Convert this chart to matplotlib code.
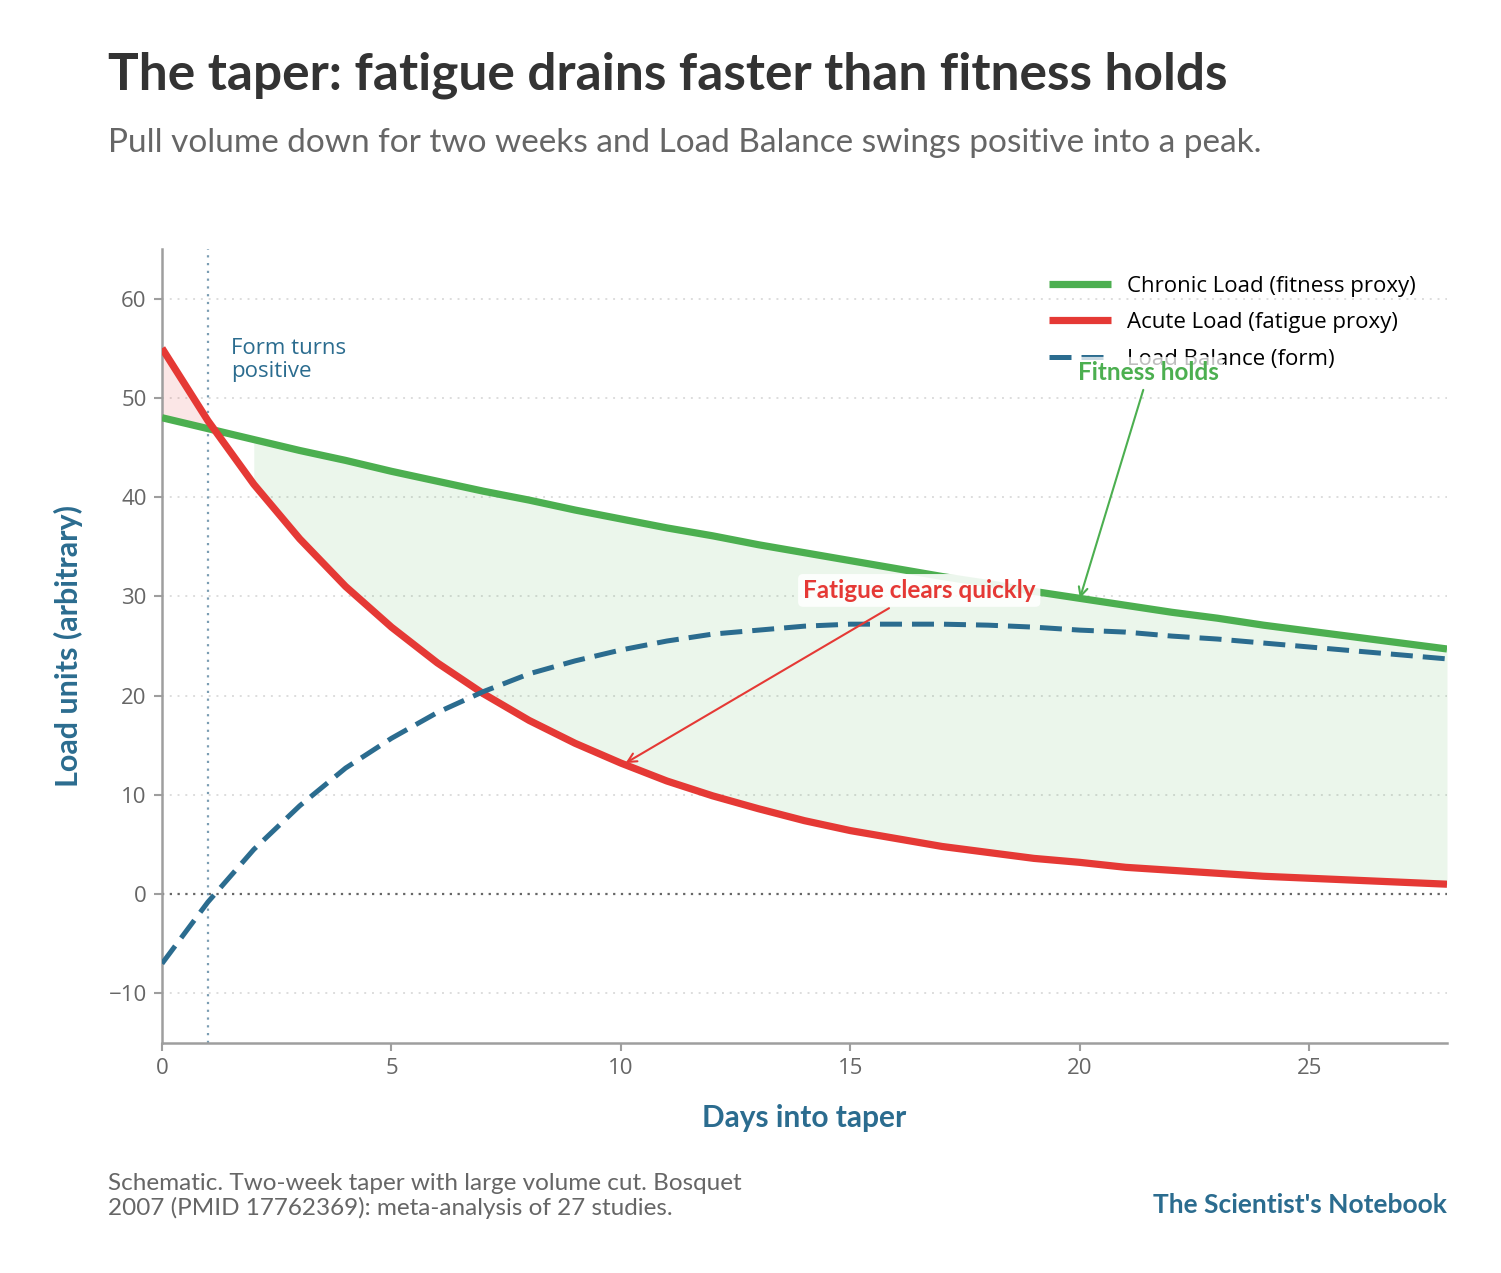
import matplotlib
matplotlib.use("Agg")
import matplotlib.pyplot as plt
import numpy as np

# ---- data ----
days = list(range(0, 29))
chronic = [48.0, 46.9, 45.8, 44.7, 43.7, 42.6, 41.6, 40.6, 39.7, 38.7,
           37.8, 36.9, 36.1, 35.2, 34.4, 33.6, 32.8, 32.0, 31.3, 30.5,
           29.8, 29.1, 28.4, 27.8, 27.1, 26.5, 25.9, 25.3, 24.7]
acute = [55.0, 47.7, 41.3, 35.8, 31.0, 26.9, 23.3, 20.2, 17.5, 15.2,
         13.2, 11.4, 9.9, 8.6, 7.4, 6.4, 5.6, 4.8, 4.2, 3.6,
         3.2, 2.7, 2.4, 2.1, 1.8, 1.6, 1.4, 1.2, 1.0]
form_positive_day = 1
y_ticks = [-10, 0, 10, 20, 30, 40, 50, 60]
x_ticks = [0, 5, 10, 15, 20, 25]

x = np.array(days)
c = np.array(chronic)
a = np.array(acute)
bal = c - a

GREEN = "#4caf50"
RED = "#e53935"
BLUE = "#2b6c8f"
HEAD = "Lato"
BODY = "Open Sans"

fig = plt.figure(figsize=(15.01, 12.73), dpi=100)
ax = fig.add_axes([162/1501, 1 - 1043/1273, (1447-162)/1501, (1043-249)/1273])

ax.fill_between(x, c, a, where=a > c, color=RED, alpha=0.12, lw=0, zorder=1)
ax.fill_between(x, c, a, where=c >= a, color=GREEN, alpha=0.11, lw=0, zorder=1)

ax.plot(x, c, color=GREEN, lw=5.2, solid_capstyle="butt", label="Chronic Load (fitness proxy)", zorder=4)
ax.plot(x, a, color=RED, lw=5.2, solid_capstyle="butt", label="Acute Load (fatigue proxy)", zorder=4)
ax.plot(x, bal, color=BLUE, lw=3.6, dashes=(4.4, 2.0), dash_capstyle="butt",
        label="Load Balance (form)", zorder=4)

ax.axhline(0, color="#666666", lw=1.6, ls=(0, (1, 2.5)), zorder=2)
ax.axvline(form_positive_day, color="#7b9db3", lw=1.6, ls=(0, (1, 2.5)), zorder=2)

ax.set_xlim(0, 28)
ax.set_ylim(-15, 65)
ax.set_xticks(x_ticks)
ax.set_yticks(y_ticks)
ax.set_yticklabels(["\u221210" if t < 0 else str(t) for t in y_ticks])
ax.yaxis.grid(True, color="#dddddd", lw=1.4, ls=(0, (1, 3)))
ax.set_axisbelow(True)
for s in ["top", "right"]:
    ax.spines[s].set_visible(False)
for s in ["left", "bottom"]:
    ax.spines[s].set_color("#9e9e9e")
    ax.spines[s].set_linewidth(1.8)
ax.tick_params(colors="#9e9e9e", labelcolor="#666666", length=6, width=1.5, labelsize=16, pad=5)
for lab in ax.get_xticklabels() + ax.get_yticklabels():
    lab.set_family(BODY)

ax.set_xlabel("Days into taper", fontsize=21.5, fontweight="bold", color=BLUE, family=HEAD, labelpad=18)
ax.set_ylabel("Load units (arbitrary)", fontsize=22, fontweight="bold", color=BLUE, family=HEAD, labelpad=18)

leg = ax.legend(loc="upper right", bbox_to_anchor=(0.988, 0.986), frameon=False,
                prop={"family": BODY, "size": 16}, handlelength=2.75, handletextpad=0.75,
                labelspacing=0.7, borderaxespad=0.3)
leg.set_zorder(5)

ax.text(1.5, 56.0, "Form turns\npositive", color=BLUE, fontsize=16, family=BODY,
        va="top", ha="left", linespacing=1.12)

ax.annotate("Fitness holds", xy=(20, 29.8), xytext=(21.5, 52.6),
            color=GREEN, fontsize=17.5, fontweight="bold", family=HEAD, ha="center", va="center",
            bbox=dict(boxstyle="round,pad=0.15", fc="white", ec="none", alpha=0.75),
            arrowprops=dict(arrowstyle="->", color=GREEN, lw=1.5, mutation_scale=16,
                            shrinkA=2, shrinkB=0), zorder=10)
ax.annotate("Fatigue clears quickly", xy=(10.1, 13.2), xytext=(16.5, 30.6),
            color=RED, fontsize=17.5, fontweight="bold", family=HEAD, ha="center", va="center",
            bbox=dict(boxstyle="round,pad=0.2", fc="white", ec="none", alpha=0.9),
            arrowprops=dict(arrowstyle="->", color=RED, lw=1.5, mutation_scale=16,
                            shrinkA=2, shrinkB=0), zorder=10)

fig.text(108/1501, 1 - 75/1273, "The taper: fatigue drains faster than fitness holds",
         fontsize=37, fontweight="bold", color="#333333", family=HEAD, ha="left", va="center")
fig.text(108/1501, 1 - 143/1273,
         "Pull volume down for two weeks and Load Balance swings positive into a peak.",
         fontsize=24, color="#666666", family=HEAD, ha="left", va="center")
fig.text(108/1501, 1 - 1196/1273,
         "Schematic. Two-week taper with large volume cut. Bosquet\n2007 (PMID 17762369): meta-analysis of 27 studies.",
         fontsize=17.5, color="#666666", family=HEAD, ha="left", va="center", linespacing=1.12)
fig.text(1447/1501, 1 - 1205/1273, "The Scientist's Notebook", fontsize=19, fontweight="bold",
         color=BLUE, family=HEAD, ha="right", va="center")

fig.savefig("out.png", dpi=100, facecolor="white")
